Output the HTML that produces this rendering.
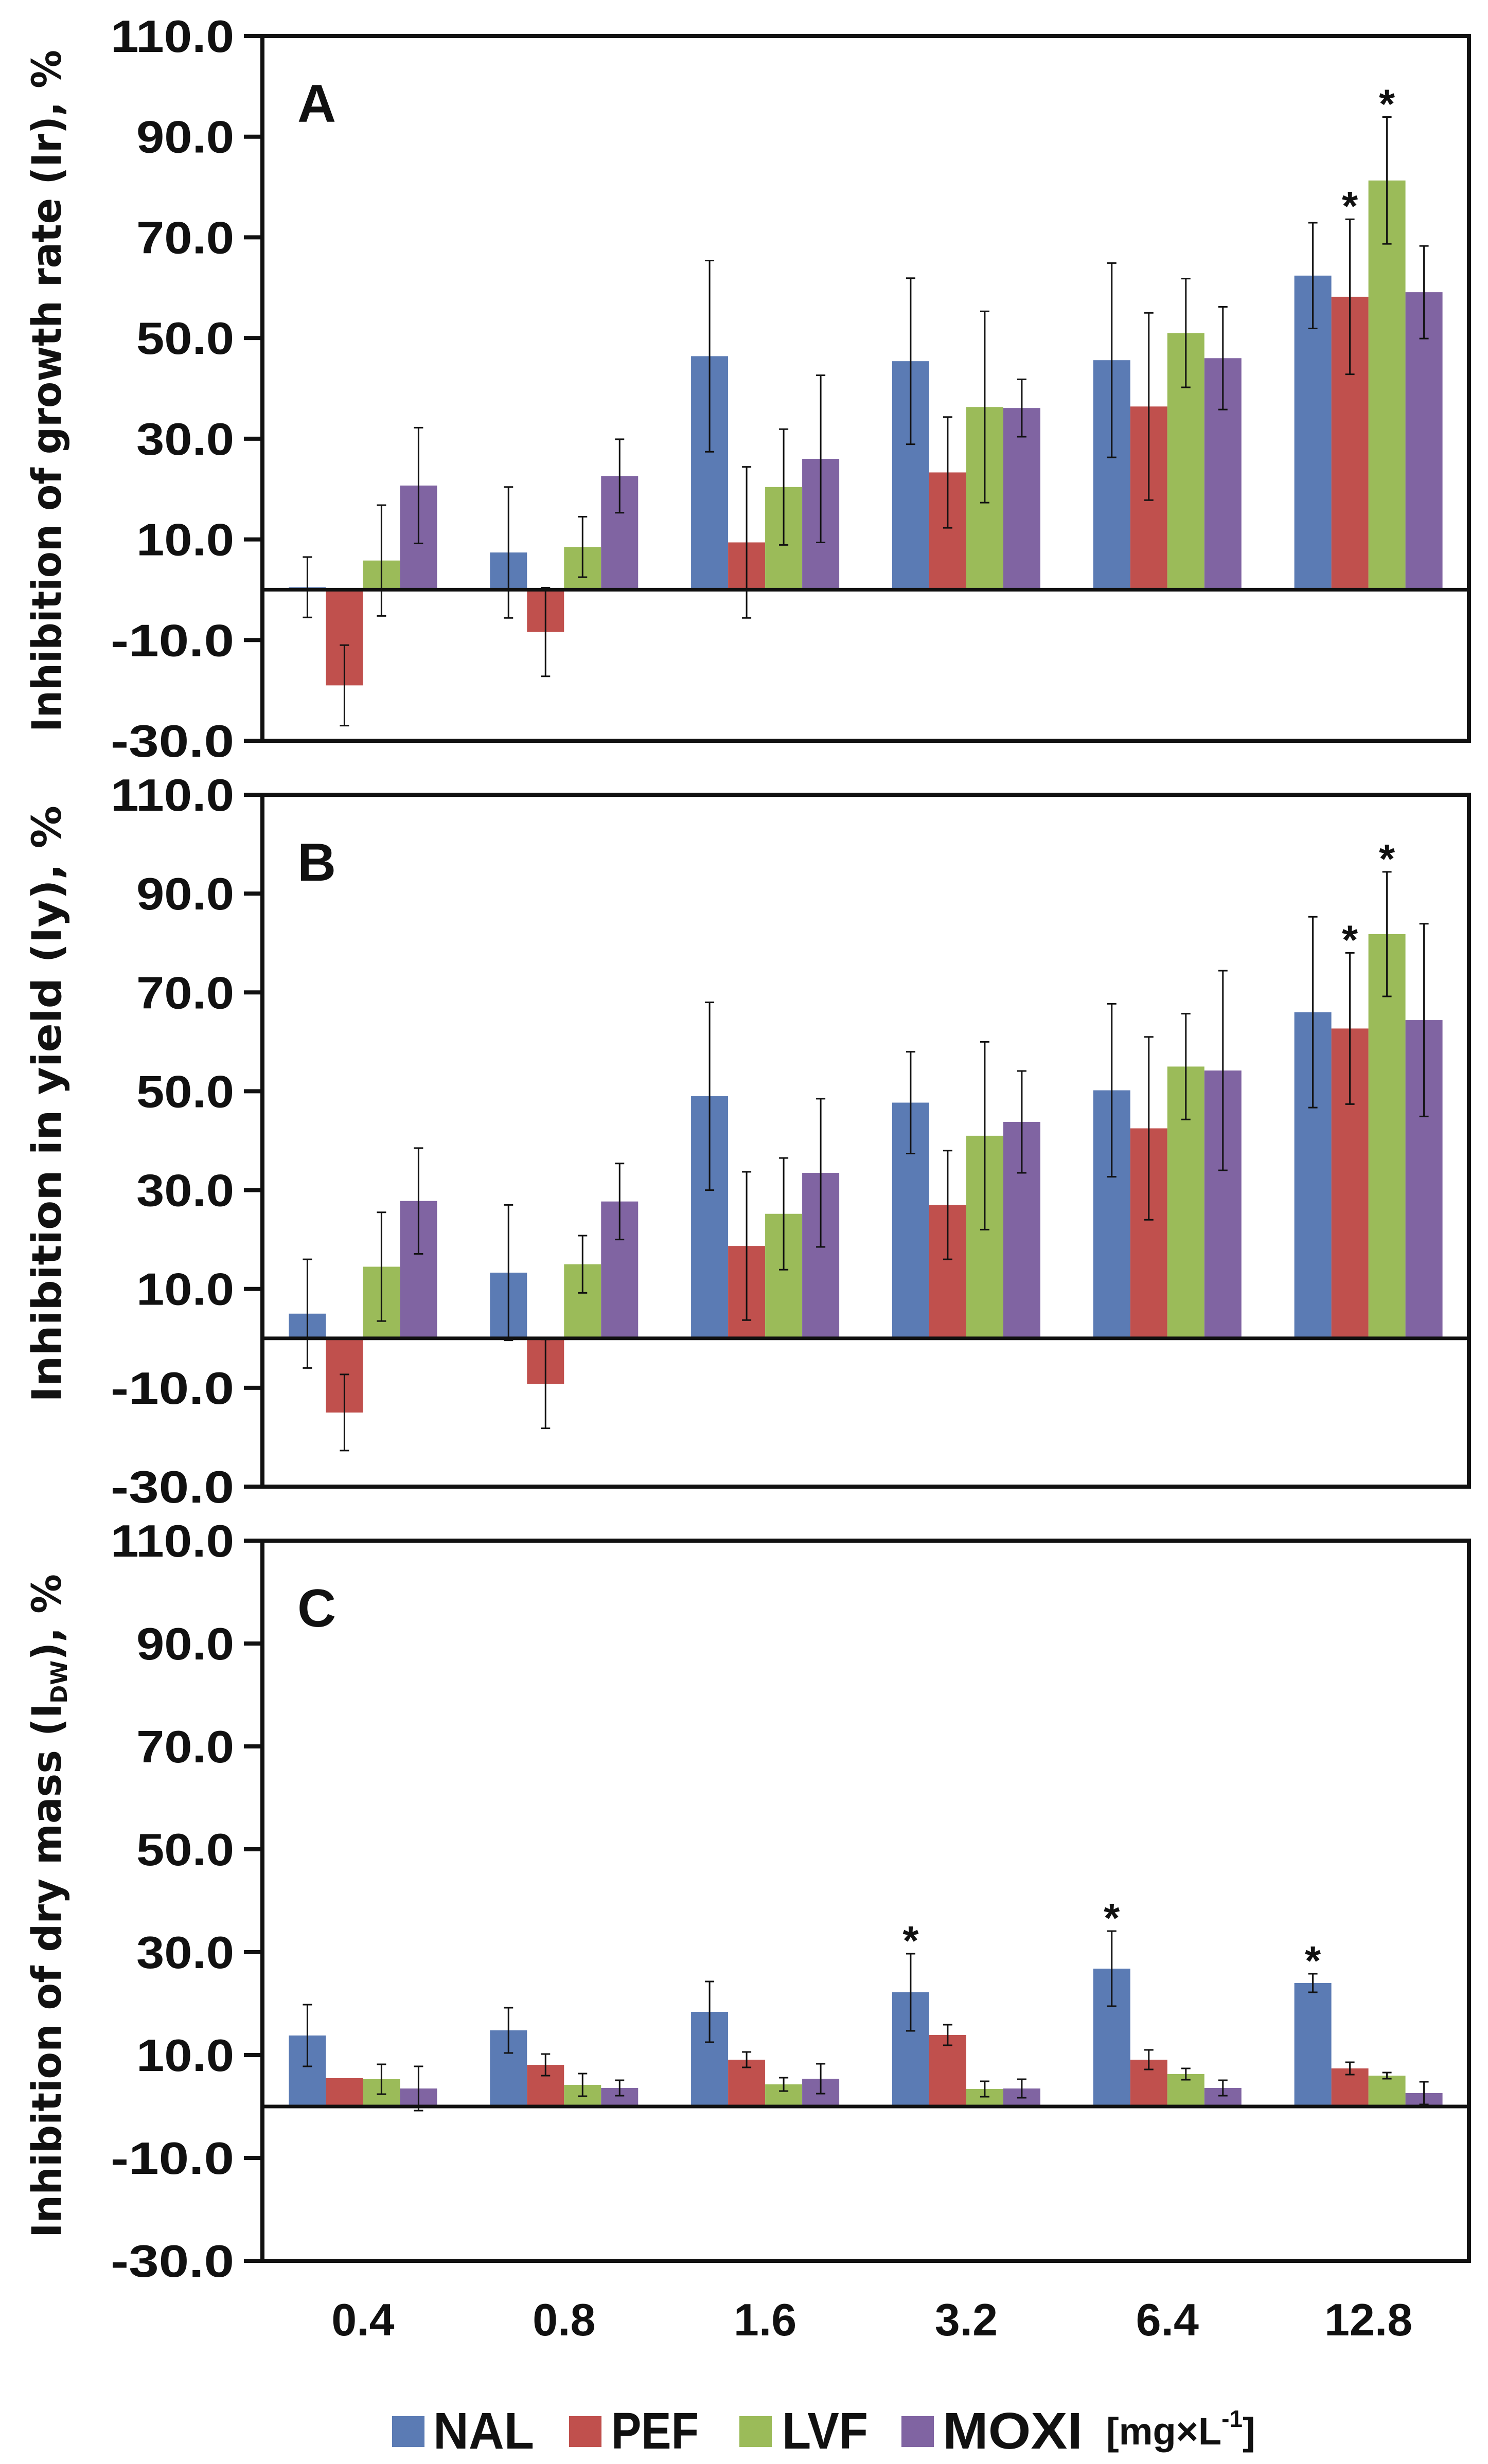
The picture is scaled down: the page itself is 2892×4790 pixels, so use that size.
<!DOCTYPE html>
<html><head><meta charset="utf-8"><style>
html,body{margin:0;padding:0;background:#fff;}
svg{display:block;}
text{font-family:"Liberation Sans",sans-serif;font-weight:bold;fill:#111;}
.ttl{font-family:"DejaVu Sans","Liberation Sans",sans-serif;}
</style></head><body>
<svg id="chart" width="2892" height="4790" viewBox="0 0 2892 4790" xmlns="http://www.w3.org/2000/svg"></svg>
<script>
const categories = ["0.4","0.8","1.6","3.2","6.4","12.8"];
const seriesNames = ["NAL","PEF","LVF","MOXI"];
const seriesColors = ["#5b7bb4","#c0504d","#9bbb59","#8064a2"];
const yTicks = [110,90,70,50,30,10,-10,-30];
const yTickLabels = ["110.0","90.0","70.0","50.0","30.0","10.0","-10.0","-30.0"];
// Panel A
const aNAL = [0.5,7.4,46.4,45.4,45.6,62.4];
const aPEF = [-19,-8.4,9.4,23.3,36.4,58.2];
const aLVF = [5.8,8.5,20.4,36.3,51,81.3];
const aMOXI = [20.7,22.6,26,36.1,46,59.1];
const aErrNAL = [6,13,19,16.5,19.3,10.5];
const aErrPEF = [8,8.8,15,11,18.6,15.4];
const aErrLVF = [11,6,11.5,19,10.8,12.6];
const aErrMOXI = [11.5,7.3,16.6,5.7,10.2,9.2];
// Panel B
const bNAL = [5,13.3,49,47.7,50.2,66];
const bPEF = [-15,-9.2,18.7,27,42.5,62.7];
const bLVF = [14.5,15,25.2,41,55,81.8];
const bMOXI = [27.8,27.7,33.5,43.8,54.2,64.4];
const bErrNAL = [11,13.7,19,10.3,17.5,19.3];
const bErrPEF = [7.7,9,15,11,18.5,15.3];
const bErrLVF = [11,5.8,11.3,19,10.7,12.6];
const bErrMOXI = [10.7,7.7,15,10.3,20.2,19.5];
// Panel C
const cNAL = [13.8,14.8,18.4,22.2,26.8,24];
const cPEF = [5.5,8.1,9.1,13.9,9.1,7.4];
const cLVF = [5.3,4.2,4.3,3.4,6.3,6];
const cMOXI = [3.5,3.6,5.4,3.5,3.6,2.6];
const cErrNAL = [6,4.4,5.9,7.5,7.3,1.8];
const cErrPEF = [0,2.1,1.5,2,1.9,1.2];
const cErrLVF = [2.9,2.2,1.3,1.5,1.1,0.6];
const cErrMOXI = [4.3,1.5,2.9,1.8,1.5,2.2];
// significance stars: [categoryIndex, seriesIndex]
const aStars = [[5,1],[5,2]];
const bStars = [[5,1],[5,2]];
const cStars = [[3,0],[4,0],[5,0]];

const NS="http://www.w3.org/2000/svg";
const svg=document.getElementById('chart');
function mk(tag,attrs,parent){const e=document.createElementNS(NS,tag);for(const k in attrs)e.setAttribute(k,attrs[k]);(parent||svg).appendChild(e);return e;}

const X0=510,X1=2855,YMAX=110,YMIN=-30;
const groupW=(X1-X0)/categories.length, barW=72;
function xGroup(i){return X0+groupW*(i+0.5);}
function xBar(i,s){return xGroup(i)-2*barW+s*barW;}

const panels=[
 {id:'a',letter:'A',top:70,bot:1440,vals:[aNAL,aPEF,aLVF,aMOXI],errs:[aErrNAL,aErrPEF,aErrLVF,aErrMOXI],stars:aStars,title:'Inhibition of growth rate (Ir), %',tc:760,tl:1326},
 {id:'b',letter:'B',top:1545,bot:2890,vals:[bNAL,bPEF,bLVF,bMOXI],errs:[bErrNAL,bErrPEF,bErrLVF,bErrMOXI],stars:bStars,title:'Inhibition in yield (Iy), %',tc:2146,tl:1160},
 {id:'c',letter:'C',top:2995,bot:4395,vals:[cNAL,cPEF,cLVF,cMOXI],errs:[cErrNAL,cErrPEF,cErrLVF,cErrMOXI],stars:cStars,title:null,tc:3705,tl:1290}
];

panels.forEach(p=>{
  const g=mk('g',{});
  
  
  const y=v=>p.top+(YMAX-v)*(p.bot-p.top)/(YMAX-YMIN);
  p.vals.forEach((arr,s)=>{
    arr.forEach((v,i)=>{
      const y0=y(0),yv=y(v);
      const r=mk('rect',{x:xBar(i,s),y:Math.min(y0,yv),width:barW,height:Math.abs(y0-yv),fill:seriesColors[s]},g);
      
      
    });
  });
  p.vals.forEach((arr,s)=>{
    arr.forEach((v,i)=>{
      const e=p.errs[s][i]; if(e<=0) return;
      const cx=xBar(i,s)+barW/2;
      const eg=mk('g',{stroke:'#111','stroke-width':3},g);
      
      
      mk('line',{x1:cx,x2:cx,y1:y(v+e),y2:y(v-e)},eg);
      mk('line',{x1:cx-9,x2:cx+9,y1:y(v+e),y2:y(v+e)},eg);
      mk('line',{x1:cx-9,x2:cx+9,y1:y(v-e),y2:y(v-e)},eg);
    });
  });
  p.stars.forEach(([i,s])=>{
    const v=p.vals[s][i]+p.errs[s][i];
    const t=mk('text',{x:xBar(i,s)+barW/2,y:y(v)+2,'text-anchor':'middle','font-size':80,'font-weight':'normal'},g);
    
    
    t.textContent='*';
  });
  const zl=mk('line',{x1:X0,x2:X1,y1:y(0),y2:y(0),stroke:'#111','stroke-width':7},g);
  
  
  const fr=mk('rect',{x:X0,y:p.top,width:X1-X0,height:p.bot-p.top,fill:'none',stroke:'#111','stroke-width':8},g);
  
  
  yTicks.forEach((v,k)=>{
    mk('line',{x1:474,x2:X0,y1:y(v),y2:y(v),stroke:'#111','stroke-width':8},g);
    const t=mk('text',{x:455,y:y(v)+31,'text-anchor':'end','font-size':88,textLength:yTickLabels[k].length>4?(yTickLabels[k].length>5?270:240):190,lengthAdjust:'spacingAndGlyphs'},g);
    
    
    t.textContent=yTickLabels[k];
  });
  const L=mk('text',{x:578,y:p.top+167,'font-size':104},g);
  
  
  L.textContent=p.letter;
  const T=mk('text',{class:'ttl',transform:'translate(118,'+p.tc+') rotate(-90)','text-anchor':'middle','font-size':78,textLength:p.tl,lengthAdjust:'spacingAndGlyphs'},g);
  
  
  if(p.title){T.textContent=p.title;}
  else{
    T.appendChild(document.createTextNode('Inhibition of dry mass (I'));
    const sub=mk('tspan',{'font-size':44,dy:12},T); sub.textContent='DW';
    const rest=mk('tspan',{dy:-12},T); rest.textContent='), %';
  }
});

categories.forEach((c,i)=>{
  const t=mk('text',{x:xGroup(i),y:4540,'text-anchor':'middle','font-size':88});
  
  
  t.textContent=c;
});

const legSqX=[762,1106,1437,1752];
const legTxtX=[842,1188,1520,1832];
const legTxtW=[196,170,167,272];
const lg=mk('g',{});


seriesNames.forEach((n,s)=>{
  const r=mk('rect',{x:legSqX[s],y:4697,width:63,height:60,fill:seriesColors[s]},lg);
  
  
  const t=mk('text',{x:legTxtX[s],y:4760,'font-size':100,textLength:legTxtW[s],lengthAdjust:'spacingAndGlyphs'},lg);
  
  
  t.textContent=n;
});
const u=mk('text',{x:2150,y:4752,'font-size':74,'font-weight':'normal'},lg);


u.appendChild(document.createTextNode('[mg×L'));
const sp=mk('tspan',{'font-size':46,dy:-34},u); sp.textContent='-1';
const sp2=mk('tspan',{dy:34},u); sp2.textContent=']';
</script>
</body></html>
